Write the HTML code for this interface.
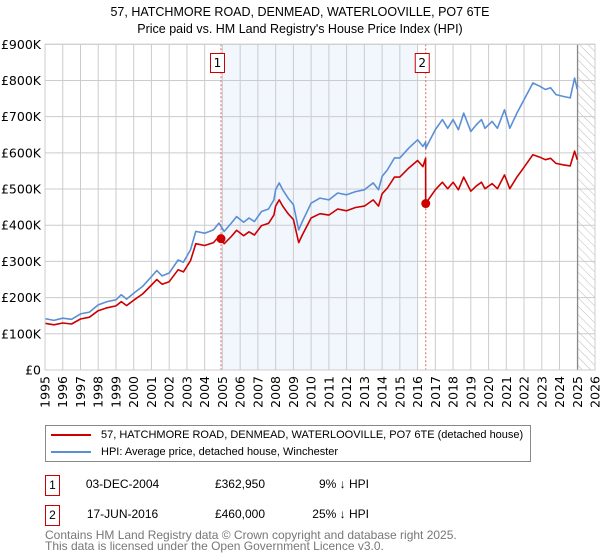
<!DOCTYPE html>
<html><head><meta charset="utf-8"><style>
body{margin:0;background:#fff;font-family:"Liberation Sans","DejaVu Sans",sans-serif;}
#wrap{position:relative;width:600px;height:560px;overflow:hidden}
.tx{font-family:"Liberation Sans",sans-serif;font-size:12px}
</style></head><body><div id="wrap">
<svg id="chart" width="600" height="560" style="position:absolute;left:0;top:0;font-family:'DejaVu Sans','Liberation Sans',sans-serif">
<defs><pattern id="hatch" width="6" height="6" patternUnits="userSpaceOnUse" patternTransform="rotate(-45)"><line x1="0" y1="0" x2="0" y2="6" stroke="#bbb" stroke-width="1"/></pattern></defs>
<text x="300" y="16" text-anchor="middle" font-size="12.5" font-family="Liberation Sans, sans-serif">57, HATCHMORE ROAD, DENMEAD, WATERLOOVILLE, PO7 6TE</text>
<text x="300" y="33" text-anchor="middle" font-size="12.5" font-family="Liberation Sans, sans-serif">Price paid vs. HM Land Registry's House Price Index (HPI)</text>
<g id="g"></g>
</svg>
<div class="tx" style="position:absolute;left:45px;top:425px;width:484px;height:35px;border:1px solid #888;font-size:11px">
<div style="position:absolute;left:5px;top:3px;white-space:nowrap"><span style="display:inline-block;width:40px;height:2px;background:#cc0000;vertical-align:middle;margin-right:10px"></span>57, HATCHMORE ROAD, DENMEAD, WATERLOOVILLE, PO7 6TE (detached house)</div>
<div style="position:absolute;left:5px;top:20px;white-space:nowrap"><span style="display:inline-block;width:40px;height:2px;background:#5b8fd4;vertical-align:middle;margin-right:10px"></span>HPI: Average price, detached house, Winchester</div>
</div>
<div class="tx">
<div style="position:absolute;left:45px;top:475px;width:13px;height:19px;border:1px solid #cc0000;text-align:center;line-height:19px">1</div>
<div style="position:absolute;left:70px;top:477px;width:105px;text-align:center">03-DEC-2004</div>
<div style="position:absolute;left:180px;top:477px;width:85px;text-align:right">£362,950</div>
<div style="position:absolute;left:280px;top:477px;width:89px;text-align:right">9% ↓ HPI</div>
<div style="position:absolute;left:45px;top:505px;width:13px;height:19px;border:1px solid #cc0000;text-align:center;line-height:19px">2</div>
<div style="position:absolute;left:70px;top:507px;width:105px;text-align:center">17-JUN-2016</div>
<div style="position:absolute;left:180px;top:507px;width:85px;text-align:right">£460,000</div>
<div style="position:absolute;left:280px;top:507px;width:89px;text-align:right">25% ↓ HPI</div>
</div>
<div class="tx" style="position:absolute;left:45px;top:530px;line-height:11px;color:#777;">Contains HM Land Registry data © Crown copyright and database right 2025.<br>This data is licensed under the Open Government Licence v3.0.</div>
</div>
<script>
const years=[1995,1995.5,1996,1996.5,1997,1997.5,1998,1998.5,1999,1999.3,1999.6,2000,2000.5,2001,2001.3,2001.6,2002,2002.5,2002.8,2003.2,2003.5,2004,2004.5,2004.8,2005.1,2005.5,2005.8,2006.2,2006.5,2006.8,2007.2,2007.6,2007.9,2008,2008.2,2008.4,2008.7,2009,2009.3,2009.5,2010,2010.5,2011,2011.5,2012,2012.5,2013,2013.5,2013.8,2014,2014.3,2014.7,2015,2015.5,2016,2016.3,2016.45,2016.46,2017,2017.4,2017.7,2018,2018.3,2018.6,2019,2019.3,2019.6,2019.8,2020.2,2020.5,2020.9,2021.2,2021.6,2022,2022.5,2022.9,2023.2,2023.5,2023.8,2024.2,2024.6,2024.85,2025];
const hpiValues=[142,137,143,140,155,160,180,189,194,208,196,212,231,258,275,260,268,304,298,332,383,378,387,406,383,406,424,408,420,410,438,445,470,498,517,498,475,457,387,410,461,475,470,489,484,493,498,517,498,535,553,586,586,613,636,618,630,613,664,692,668,692,664,710,659,677,692,668,687,668,719,668,710,747,793,784,775,780,761,756,752,807,775];
const priceValues=[129,125,130,127,141,146,164,172,177,189,178,193,210,235,250,237,244,277,271,302,349,344,352,369,349,369,386,371,382,373,399,405,428,453,470,453,432,416,352,373,420,432,428,445,440,449,453,470,453,487,503,533,533,558,579,562,585,460,498,519,501,519,498,533,494,508,519,501,515,501,539,501,533,560,595,588,581,585,571,567,564,605,581];
const saleYears=[2004.92,2016.46];
const saleValues=[362.95,460];
const saleLabels=["1","2"];
const yTicks=[0,100,200,300,400,500,600,700,800,900];
const yTickLabels=["£0","£100K","£200K","£300K","£400K","£500K","£600K","£700K","£800K","£900K"];
const xTicks=[1995,1996,1997,1998,1999,2000,2001,2002,2003,2004,2005,2006,2007,2008,2009,2010,2011,2012,2013,2014,2015,2016,2017,2018,2019,2020,2021,2022,2023,2024,2025,2026];

const L=45,R=595,T=44.3,B=370;
const X=v=>L+(v-1995)/(2026-1995)*(R-L);
const Y=v=>B-v/900*(B-T);
const NS="http://www.w3.org/2000/svg";
const g=document.getElementById('g');
function mk(t,a,p){const e=document.createElementNS(NS,t);for(const k in a)e.setAttribute(k,a[k]);(p||g).appendChild(e);return e;}

let e=mk('rect',{x:X(2004.92),y:T,width:X(2016.0)-X(2004.92),height:B-T,fill:'#f2f6fd'});


e=mk('rect',{x:X(2025.02),y:T,width:R-X(2025.02),height:B-T,fill:'url(#hatch)'});


yTicks.forEach((t,i)=>{
  const l=mk('line',{x1:L,x2:R,y1:Y(t),y2:Y(t),stroke:'#cccccc'});
  
  
  const tx=mk('text',{x:L-4,y:Y(t)+4.5,'text-anchor':'end','font-size':'12.5'});
  tx.textContent=yTickLabels[i];
  
  
});
xTicks.forEach(t=>{
  const l=mk('line',{x1:X(t),x2:X(t),y1:T,y2:B,stroke:'#cccccc'});
  
  
  const tx=mk('text',{transform:`translate(${X(t)+4.5},${B+6}) rotate(-90)`,'text-anchor':'end','font-size':'12.5'});
  tx.textContent=t;
  
  
});
e=mk('line',{x1:X(2025.02),x2:X(2025.02),y1:T,y2:B,stroke:'#888','stroke-width':1.2});


saleYears.forEach((s,i)=>{
  const l=mk('line',{x1:X(s),x2:X(s),y1:T,y2:B,stroke:'#e06060','stroke-dasharray':'2,2','stroke-width':1});
  
  
});
const pts=a=>years.map((y,i)=>X(y).toFixed(1)+','+Y(a[i]).toFixed(1)).join(' ');
e=mk('polyline',{points:pts(hpiValues),fill:'none',stroke:'#5b8fd4','stroke-width':1.6,'stroke-linejoin':'round'});


e=mk('polyline',{points:pts(priceValues),fill:'none',stroke:'#cc0000','stroke-width':1.6,'stroke-linejoin':'round'});


saleYears.forEach((s,i)=>{
  const c=mk('circle',{cx:X(s),cy:Y(saleValues[i]),r:4.5,fill:'#cc0000'});
  
  
  const r=mk('rect',{x:X(s)-10.5,y:53.5,width:14,height:19,fill:'#fff',stroke:'#cc0000'});
  
  
  const t=mk('text',{x:X(s)-3.5,y:67,'text-anchor':'middle','font-size':'12'});
  t.textContent=saleLabels[i];
  
  
});
e=mk('rect',{x:L,y:T,width:R-L,height:B-T,fill:'none',stroke:'#cccccc'});


</script>
</body></html>
